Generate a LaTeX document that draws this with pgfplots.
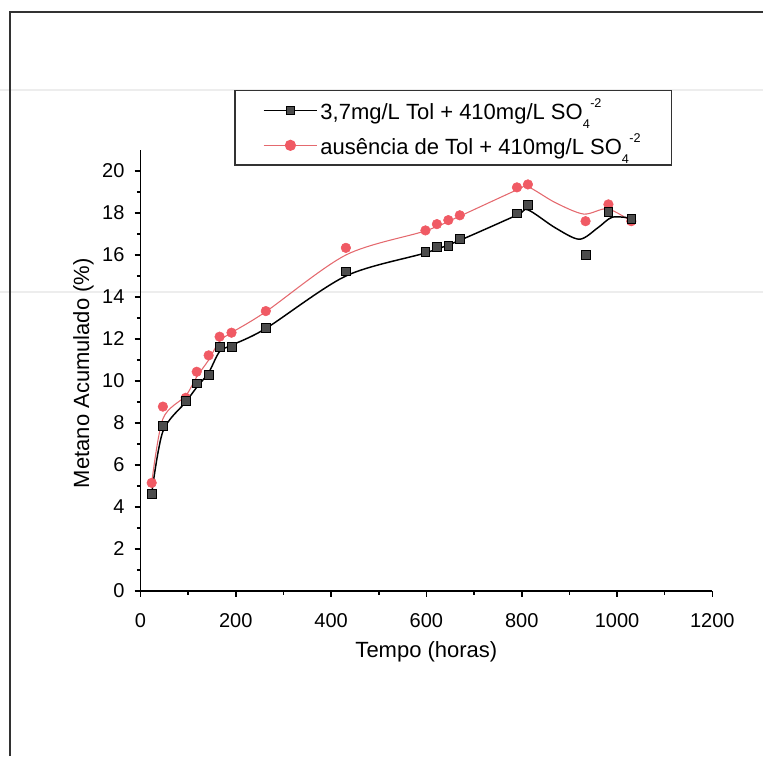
\documentclass[border=0pt]{standalone}
\usepackage{fontspec}
\setmainfont{Liberation Sans}
\usepackage{pgfplots}
\pgfplotsset{compat=1.18}
\definecolor{redpt}{RGB}{240,90,100}
\definecolor{redln}{RGB}{228,105,110}
\definecolor{framec}{RGB}{50,50,50}
\newcommand{\sulf}{SO\raisebox{-0.75ex}{\fontsize{9.5}{10}\selectfont 4}\kern0.02em\raisebox{1.05ex}{\fontsize{9.5}{10}\selectfont -2}\hspace{4pt}}
\begin{document}
\begin{tikzpicture}
\path[use as bounding box] (0pt,0pt) rectangle (572.25pt,567pt);
\draw[black!7, line width=0.8pt] (0pt,499.5pt) -- (572.25pt,499.5pt);
\draw[black!7, line width=0.8pt] (0pt,348pt) -- (572.25pt,348pt);
\draw[framec, line width=1.6pt] (7.5pt,0pt) -- (7.5pt,558pt) -- (572.25pt,558pt);
\begin{axis}[
  at={(105.375pt,123.75pt)}, anchor=south west,
  scale only axis, width=428.85pt, height=330.75pt,
  xmin=0, xmax=1200, ymin=0, ymax=21,
  axis lines*=left,
  xtick={0,200,...,1200}, minor x tick num=1,
  ytick={0,2,...,20}, minor y tick num=1,
  tick align=outside, major tick length=4.5pt, minor tick length=2.8pt,
  every tick/.style={black, line width=1.2pt},
  axis line style={black, line width=1.4pt},
  tick label style={font=\fontsize{15}{17}\selectfont},
  xticklabel style={yshift=-8.5pt},
  yticklabel style={xshift=-4pt},
  /pgf/number format/assume math mode=true,
  /pgf/number format/1000 sep={},
  xlabel={Tempo (horas)}, ylabel={Metano Acumulado (\%)},
  label style={font=\fontsize{16.5}{19}\selectfont},
  xlabel style={at={(axis description cs:0.5,-0.138)}, anchor=center},
  ylabel style={at={(axis description cs:-0.1,0.494)}, anchor=center},
  legend style={at={(axis description cs:0.164,1.136)}, anchor=north west,
    draw=framec, line width=1.1pt, font=\fontsize{16.5}{19}\selectfont,
    inner xsep=21pt, inner ysep=4pt, row sep=5pt, cells={anchor=west}},
  legend image code/.code={\draw[mark repeat=2,mark phase=2,#1] plot coordinates {(0pt,0pt) (20pt,0pt) (40pt,0pt)};},
]
\addlegendimage{black, line width=1.1pt, mark=square*, mark size=3.2pt, mark options={fill=black!70, draw=black, line width=0.6pt, solid}}
\addlegendentry{3,7mg/L Tol + 410mg/L \sulf}
\addlegendimage{redln, line width=0.8pt, mark=*, mark size=3.8pt, mark options={fill=redpt, draw=redpt, solid}}
\addlegendentry{ausência de Tol + 410mg/L \sulf}
% red curve (read off the drawn spline)
\addplot[redln, line width=0.8pt, smooth, forget plot] coordinates {
(23.5,5.15) (47,8.2) (95,9.3) (118,10.2) (143,11.0) (166,11.9) (191,12.3) (263,13.3)
(431,16.0) (598,17.15) (670,17.85) (790,19.1) (813,19.25) (870,18.5) (930,17.95) (980,18.2) (1030,17.6)};
\addplot[only marks, mark=*, mark size=3.6pt, mark options={fill=redpt, draw=redpt}, forget plot] coordinates {
(23.5,5.15) (47,8.78) (95,9.2) (118,10.44) (143,11.22) (166,12.11) (191,12.30) (263,13.33)
(431,16.34) (598,17.17) (622,17.47) (646,17.66) (670,17.89) (790,19.22) (813,19.36)
(934,17.61) (982,18.41) (1030,17.61)};
% black curve
\addplot[black, line width=1.1pt, smooth, forget plot] coordinates {
(23.5,4.64) (47,7.6) (95,9.0) (118,9.7) (143,10.4) (166,11.4) (191,11.7) (263,12.5)
(431,15.0) (598,16.1) (670,16.7) (790,17.9) (813,18.15) (870,17.3) (921,16.75) (960,17.3) (990,17.8) (1030,17.75)};
\addplot[only marks, mark=square*, mark size=3.3pt, mark options={fill=black!70, draw=black, line width=0.6pt}, forget plot] coordinates {
(23.5,4.64) (47,7.86) (95,9.06) (118,9.89) (143,10.28) (166,11.61) (191,11.61) (263,12.53)
(431,15.22) (598,16.14) (622,16.37) (646,16.44) (670,16.76) (790,17.98) (813,18.39)
(934,16.02) (982,18.07) (1030,17.70)};
\end{axis}
\end{tikzpicture}
\end{document}
